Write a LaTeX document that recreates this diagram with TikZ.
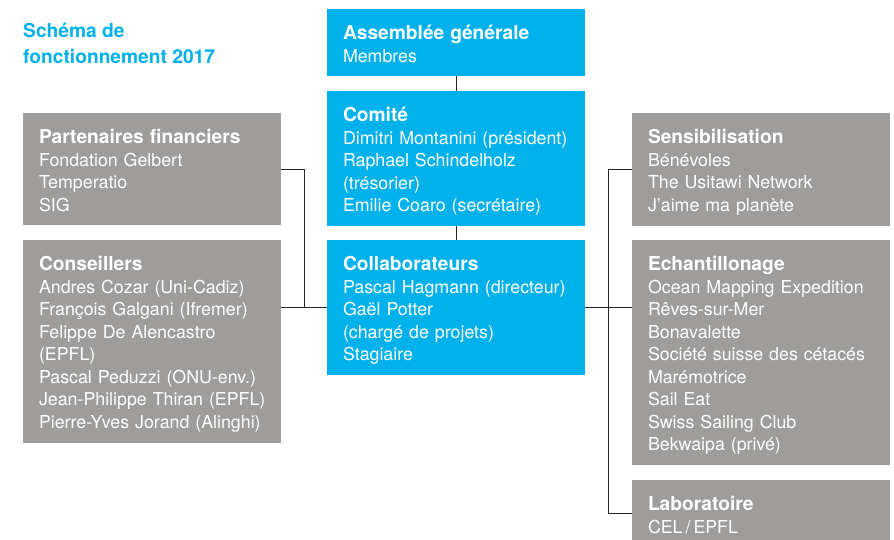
\documentclass[tikz,border=0pt]{standalone}
\usepackage{fontspec}
\setmainfont{TeX Gyre Heros}
\usetikzlibrary{calc}
\definecolor{orgblue}{HTML}{00B1EB}
\definecolor{orggrey}{HTML}{9E9D9B}
\newcommand{\hd}[1]{{\fontsize{19.2}{22.5}\selectfont\bfseries #1}}

\begin{document}
\begin{tikzpicture}[x=1pt,y=-1pt,
  box/.style={anchor=north west, minimum width=258pt, text width=226pt, inner xsep=16pt, inner ysep=11pt, outer sep=0pt, align=left, text=white, font=\fontsize{17.8}{22.5}\selectfont, execute at begin node={\rule{0pt}{19.5pt}}, execute at end node={\rule[-3pt]{0pt}{3pt}}},
  bluebox/.style={box, fill=orgblue},
  greybox/.style={box, fill=orggrey},
  link/.style={line width=0.9pt, black!85}]
\useasboundingbox (0,0) rectangle (894,539);

\node[anchor=north west, align=left, inner sep=0pt, text=orgblue, font=\fontsize{19.2}{25.5}\selectfont\bfseries] (title) at (23,23) {Schéma de\\fonctionnement 2017};

% centre
\node[bluebox] (ag) at (327,9) {\hd{Assemblée générale}\\Membres};
\node[bluebox] (comite) at (327,91) {\hd{Comité}\\\mbox{Dimitri Montanini (président)}\\Raphael Schindelholz\\(trésorier)\\Emilie Coaro (secrétaire)};
\node[bluebox] (collab) at (327,240) {\hd{Collaborateurs}\\Pascal Hagmann (directeur)\\Gaël Potter\\(chargé de projets)\\Stagiaire};

% gauche
\node[greybox] (part) at (23,113) {\hd{Partenaires financiers}\\Fondation Gelbert\\Temperatio\\SIG};
\node[greybox] (cons) at (23,240) {\hd{Conseillers}\\Andres Cozar (Uni-Cadiz)\\François Galgani (Ifremer)\\Felippe De Alencastro\\(EPFL)\\Pascal Peduzzi (ONU-env.)\\\mbox{Jean-Philippe Thiran (EPFL)}\\\mbox{Pierre-Yves Jorand (Alinghi)}};

% droite
\node[greybox] (sens) at (632,113) {\hd{Sensibilisation}\\Bénévoles\\The Usitawi Network\\J’aime ma planète};
\node[greybox] (ech) at (632,240) {\hd{Echantillonage}\\\mbox{Ocean Mapping Expedition}\\Rêves-sur-Mer\\Bonavalette\\\mbox{Société suisse des cétacés}\\Marémotrice\\Sail Eat\\Swiss Sailing Club\\Bekwaipa (privé)};
\node[greybox] (lab) at (632,480) {\hd{Laboratoire}\\CEL\,/\,EPFL};

\coordinate (jl) at ($(cons.east |- collab.west)!.5!(collab.west)$);
\coordinate (jr) at ($(collab.east)!.5!(ech.west |- collab.east)$);

\draw[link] (ag) -- (comite);
\draw[link] (comite) -- (collab);
\draw[link] (part.east) -| (jl);
\draw[link] (cons.east |- collab.west) -- (collab.west);
\draw[link] (collab.east) -- (ech.west |- collab.east);
\draw[link] (sens.west) -| (jr |- lab.west) -- (lab.west);
\end{tikzpicture}
\end{document}
